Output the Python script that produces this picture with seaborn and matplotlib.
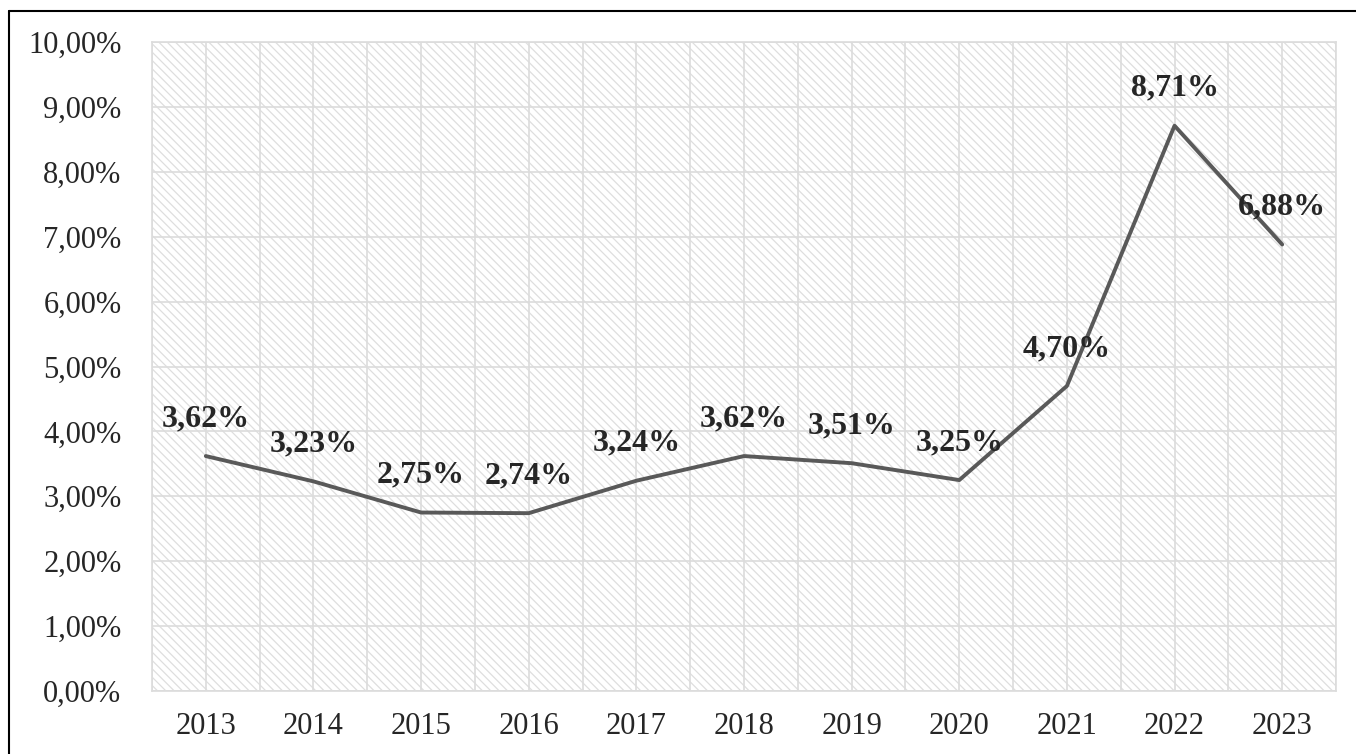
import pandas as pd
import seaborn as sns
import matplotlib.pyplot as plt
from matplotlib.ticker import FuncFormatter, MultipleLocator
from matplotlib.patches import Rectangle
from matplotlib.lines import Line2D

years = ['2013', '2014', '2015', '2016', '2017', '2018', '2019', '2020', '2021', '2022', '2023']
rate = [3.62, 3.23, 2.75, 2.74, 3.24, 3.62, 3.51, 3.25, 4.70, 8.71, 6.88]
y_ticks = [0, 1, 2, 3, 4, 5, 6, 7, 8, 9, 10]

sns.set_style('white')
plt.rcParams['font.family'] = ['Liberation Serif', 'DejaVu Serif']
plt.rcParams['hatch.linewidth'] = 0.9

df = pd.DataFrame({'year': years, 'rate': rate})
df['pos'] = range(len(df))

fig = plt.figure(figsize=(13.56, 7.54), dpi=100, facecolor='white')
ax = fig.add_axes([152/1356, 1-691/754, (1336-152)/1356, (691-42)/754])

# hatched background
bg = Rectangle((0, 0), 1, 1, transform=ax.transAxes, facecolor='white',
               edgecolor='#dedede', hatch='\\\\\\\\', linewidth=0, zorder=0)
ax.add_patch(bg)

sns.lineplot(data=df, x='pos', y='rate', color='#595959', linewidth=2.8, ax=ax, zorder=3)

for i, v in enumerate(rate):
    ax.annotate(f'{v:.2f}%'.replace('.', ','), (i, v), xytext=(0, 27),
                textcoords='offset points', ha='center', va='center',
                fontsize=23, fontweight='bold', zorder=4)

ax.set_xlim(-0.5, len(years) - 0.5)
ax.set_ylim(0, 10)
ax.set_xticks(range(len(years)))
ax.set_xticklabels(years)
ax.xaxis.set_minor_locator(MultipleLocator(1, offset=0.5))
ax.set_yticks(y_ticks)
ax.yaxis.set_major_formatter(FuncFormatter(lambda v, p: f'{v:.2f}%'.replace('.', ',')))

ax.grid(True, which='both', axis='x', color='#dcdcdc', linewidth=1.2, zorder=1)
ax.grid(True, which='major', axis='y', color='#dcdcdc', linewidth=1.2, zorder=1)
ax.tick_params(axis='both', which='both', length=0, labelsize=22)
ax.tick_params(axis='y', pad=22)
ax.tick_params(axis='x', pad=15)
ax.set_xlabel('')
ax.set_ylabel('')
for s in ax.spines.values():
    s.set_color('#dcdcdc')
    s.set_linewidth(1.2)

# outer frame (left and top)
fig.add_artist(Line2D([9/1356, 9/1356], [0, 1-11/754], color='black', linewidth=1.5))
fig.add_artist(Line2D([9/1356, 1], [1-11/754, 1-11/754], color='black', linewidth=1.5))

plt.savefig('out.png', dpi=100, facecolor='white')
